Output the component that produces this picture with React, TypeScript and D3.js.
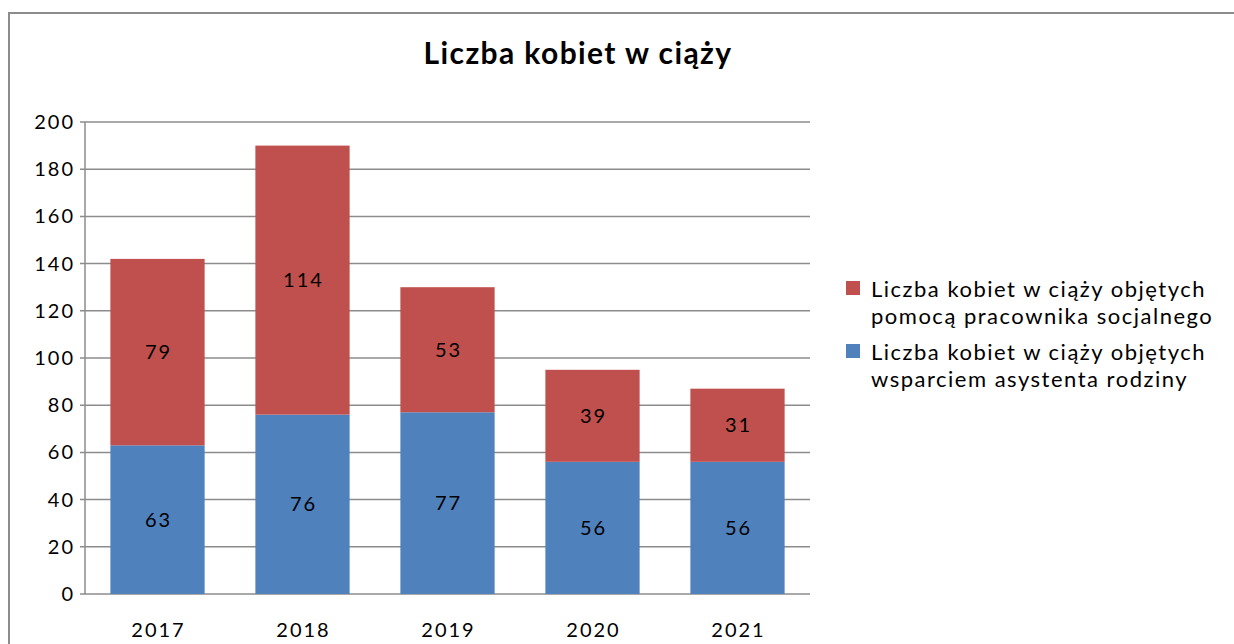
import React, { useEffect, useRef } from 'react'
import * as d3 from 'd3'

const years = ['2017', '2018', '2019', '2020', '2021']
const asystent = [63, 76, 77, 56, 56]
const pracownik = [79, 114, 53, 39, 31]
const seriesNames = [
  ['Liczba kobiet w ciąży objętych', 'pomocą pracownika socjalnego'],
  ['Liczba kobiet w ciąży objętych', 'wsparciem asystenta rodziny'],
]
const yTicks = [0, 20, 40, 60, 80, 100, 120, 140, 160, 180, 200]

const W = 1234
const H = 644
const FONT = 'Lato, Carlito, Calibri, sans-serif'

export default function App() {
  const ref = useRef<SVGSVGElement>(null)

  useEffect(() => {
    document.body.style.margin = '0'
    const svg = d3.select(ref.current)
    svg.selectAll('*').remove()

    const left = 85
    const right = 810
    const top = 122
    const bottom = 594

    // outer frame, runs off the page on the right and bottom
    svg
      .append('rect')
      .attr('x', 9)
      .attr('y', 13)
      .attr('width', W + 20)
      .attr('height', H + 20)
      .attr('fill', 'white')
      .attr('stroke', '#8c8c8c')
      .attr('stroke-width', 2)

    svg
      .append('text')
      .attr('x', 578)
      .attr('y', 64)
      .attr('text-anchor', 'middle')
      .attr('font-family', FONT)
      .attr('font-weight', 'bold')
      .attr('font-size', 30)
      .attr('letter-spacing', 1.4)
      .text('Liczba kobiet w ciąży')

    const x = d3.scaleBand().domain(years).range([left, right]).paddingInner(0.35).paddingOuter(0.175)
    const y = d3.scaleLinear().domain([0, 200]).range([bottom, top])

    // gridlines
    svg
      .append('g')
      .selectAll('line')
      .data(yTicks)
      .join('line')
      .attr('x1', left - 5)
      .attr('x2', right)
      .attr('y1', (d) => y(d))
      .attr('y2', (d) => y(d))
      .attr('stroke', '#8c8c8c')
      .attr('stroke-width', 1.5)

    svg
      .append('line')
      .attr('x1', left)
      .attr('x2', left)
      .attr('y1', top)
      .attr('y2', bottom)
      .attr('stroke', '#8c8c8c')
      .attr('stroke-width', 1.5)

    const textStyle = (sel: any) =>
      sel.attr('font-family', FONT).attr('font-size', 20).attr('letter-spacing', 2)

    // y tick labels
    svg
      .append('g')
      .call(textStyle)
      .selectAll('text')
      .data(yTicks)
      .join('text')
      .attr('x', 75)
      .attr('y', (d) => y(d) + 7)
      .attr('text-anchor', 'end')
      .text((d) => d)

    // x tick labels
    svg
      .append('g')
      .call(textStyle)
      .selectAll('text')
      .data(years)
      .join('text')
      .attr('x', (d) => x(d)! + x.bandwidth() / 2 + 1)
      .attr('y', 637)
      .attr('text-anchor', 'middle')
      .text((d) => d)

    const blue = '#4f81bd'
    const red = '#c0504d'

    const bars = svg.append('g')
    bars
      .selectAll('rect.a')
      .data(years)
      .join('rect')
      .attr('class', 'a')
      .attr('x', (d) => x(d)!)
      .attr('width', x.bandwidth())
      .attr('y', (d, i) => y(asystent[i]))
      .attr('height', (d, i) => bottom - y(asystent[i]))
      .attr('fill', blue)
    bars
      .selectAll('rect.p')
      .data(years)
      .join('rect')
      .attr('class', 'p')
      .attr('x', (d) => x(d)!)
      .attr('width', x.bandwidth())
      .attr('y', (d, i) => y(asystent[i] + pracownik[i]))
      .attr('height', (d, i) => y(asystent[i]) - y(asystent[i] + pracownik[i]))
      .attr('fill', red)

    // value labels
    const labels = svg.append('g').call(textStyle).attr('text-anchor', 'middle')
    labels
      .selectAll('text.a')
      .data(years)
      .join('text')
      .attr('class', 'a')
      .attr('x', (d) => x(d)! + x.bandwidth() / 2 + 1)
      .attr('y', (d, i) => y(asystent[i] / 2) + 7)
      .text((d, i) => asystent[i])
    labels
      .selectAll('text.p')
      .data(years)
      .join('text')
      .attr('class', 'p')
      .attr('x', (d) => x(d)! + x.bandwidth() / 2 + 1)
      .attr('y', (d, i) => y(asystent[i] + pracownik[i] / 2) + 7)
      .text((d, i) => pracownik[i])

    // legend
    const legend = svg
      .append('g')
      .attr('font-family', FONT)
      .attr('font-size', 22)
      .attr('letter-spacing', 1.5)
    const legendColors = [red, blue]
    seriesNames.forEach((lines, i) => {
      const ly = 281 + i * 63
      legend
        .append('rect')
        .attr('x', 846)
        .attr('y', ly)
        .attr('width', 14)
        .attr('height', 14)
        .attr('fill', legendColors[i])
      lines.forEach((t, j) => {
        legend
          .append('text')
          .attr('x', 871)
          .attr('y', ly + 16 + j * 27)
          .text(t)
      })
    })
  }, [])

  return <svg ref={ref} width={W} height={H} style={{ display: 'block' }} />
}
